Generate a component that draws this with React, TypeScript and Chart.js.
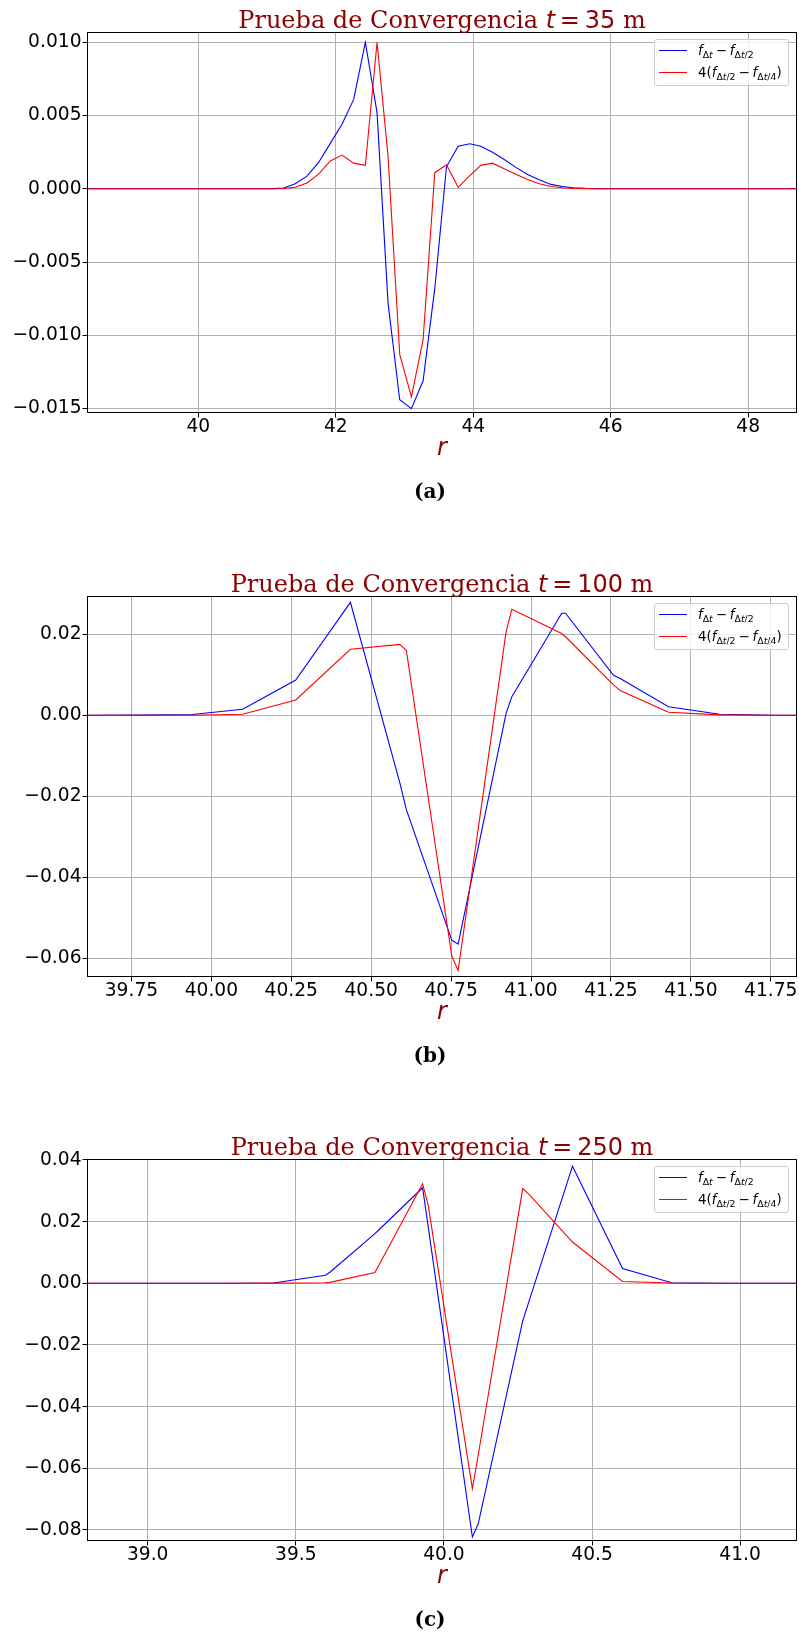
import React, { useEffect, useRef } from 'react';
import { Chart, registerables } from 'chart.js';

Chart.register(...registerables);

// ---------- Panel (a): t = 35 m ----------
const rA = [38.38, 41.07, 41.24, 41.41, 41.58, 41.75, 41.92, 42.09, 42.26, 42.43, 42.6, 42.76, 42.93, 43.1, 43.27, 43.44, 43.61, 43.78, 43.95, 44.11, 44.28, 44.45, 44.62, 44.79, 44.96, 45.13, 45.3, 45.46, 45.63, 45.8, 45.97, 48.71];
const blueA = [0, 0.00001, 0.00005, 0.00034, 0.00086, 0.0018, 0.0031, 0.0044, 0.0061, 0.0100, 0.0052, -0.0078, -0.0144, -0.0150, -0.0131, -0.0068, 0.0015, 0.0029, 0.00307, 0.0029, 0.0025, 0.0020, 0.00146, 0.00098, 0.00061, 0.0003, 0.00016, 0.00007, 0.00003, 0.00001, 0, 0];
const redA = [0, 0, 0.00001, 0.0001, 0.0004, 0.001, 0.0019, 0.0023, 0.00175, 0.0016, 0.0100, 0.0022, -0.0113, -0.0142, -0.0103, 0.0011, 0.00164, 0.0001, 0.0009, 0.0016, 0.00175, 0.00137, 0.001, 0.00063, 0.00034, 0.00016, 0.00007, 0.00003, 0.00001, 0, 0, 0];

// ---------- Panel (b): t = 100 m ----------
const rB = [39.611, 39.77, 39.94, 40.098, 40.264, 40.435, 40.59, 40.61, 40.752, 40.772, 40.922, 40.94, 41.096, 41.108, 41.258, 41.279, 41.43, 41.59, 41.76, 41.832];
const blueB = [0, 0.00005, 0.0002, 0.0015, 0.0087, 0.0279, -0.0168, -0.0233, -0.0555, -0.0565, 0.0005, 0.0046, 0.0252, 0.0252, 0.0099, 0.0091, 0.0021, 0.00025, 0.00002, 0];
const redB = [0, 0, 0.00003, 0.00025, 0.0038, 0.0163, 0.0175, 0.016, -0.0594, -0.063, 0.0206, 0.0262, 0.0202, 0.0194, 0.0075, 0.0061, 0.00074, 0.0001, 0, 0];

// ---------- Panel (c): t = 250 m ----------
const rC = [38.795, 39.26, 39.424, 39.6, 39.615, 39.767, 39.78, 39.928, 39.947, 40.096, 40.116, 40.266, 40.285, 40.434, 40.603, 40.769, 40.94, 41.192];
const blueC = [0, 0.00002, 0.0001, 0.0026, 0.0036, 0.0161, 0.0173, 0.031, 0.0183, -0.0823, -0.0779, -0.0122, -0.0065, 0.038, 0.0048, 0.0002, 0, 0];
const redC = [0, 0, 0.00005, 0.0002, 0.0003, 0.0035, 0.0058, 0.0323, 0.0253, -0.0666, -0.0556, 0.0307, 0.0291, 0.0134, 0.0006, 0.0001, 0, 0];

// Titles / captions
const timesLabel = ['35', '100', '250'];
const captions = ['(a)', '(b)', '(c)'];

type PanelCfg = {
  r: number[]; blue: number[]; red: number[];
  xMin: number; xMax: number; yMin: number; yMax: number;
  xStep: number; yStep: number; xDec: number; yDec: number;
  t: string; cap: string;
  canvasTop: number; plotTop: number; plotBottom: number;
};

const panels: PanelCfg[] = [
  { r: rA, blue: blueA, red: redA, xMin: 38.38, xMax: 48.71, yMin: -0.0153, yMax: 0.0107, xStep: 2, yStep: 0.005, xDec: 0, yDec: 3, t: timesLabel[0], cap: captions[0], canvasTop: 0, plotTop: 32, plotBottom: 413 },
  { r: rB, blue: blueB, red: redB, xMin: 39.611, xMax: 41.832, yMin: -0.06462, yMax: 0.02946, xStep: 0.25, yStep: 0.02, xDec: 2, yDec: 2, t: timesLabel[1], cap: captions[1], canvasTop: 560, plotTop: 596, plotBottom: 977 },
  { r: rC, blue: blueC, red: redC, xMin: 38.795, xMax: 41.192, yMin: -0.08357, yMax: 0.04032, xStep: 0.5, yStep: 0.02, xDec: 1, yDec: 2, t: timesLabel[2], cap: captions[2], canvasTop: 1120, plotTop: 1159, plotBottom: 1541 },
];

const W = 799;
const CANVAS_H = 470;
const PLOT_LEFT = 87;
const PLOT_RIGHT = 797;
const X_AXIS_H = 40;
const TICK_FONT = 18.67;
const DARKRED = '#8b0000';

const fmt = (v: number, dec: number) => {
  const s = Math.abs(v) < 1e-12 ? (0).toFixed(dec) : v.toFixed(dec);
  return s.replace('-', '\u2212');
};

const framePlugin = {
  id: 'frame',
  afterDraw(chart: any) {
    const { ctx, chartArea: a } = chart;
    ctx.save();
    ctx.strokeStyle = '#000';
    ctx.lineWidth = 1;
    ctx.strokeRect(a.left + 0.5, a.top + 0.5, a.right - a.left - 1, a.bottom - a.top - 1);
    ctx.restore();
  },
};

const Sub: React.FC<{ children: React.ReactNode }> = ({ children }) => (
  <span style={{ fontSize: '0.7em', position: 'relative', top: '0.25em' }}>{children}</span>
);
const I: React.FC<{ children: React.ReactNode }> = ({ children }) => (
  <span style={{ fontStyle: 'italic' }}>{children}</span>
);

function Panel({ p }: { p: PanelCfg }) {
  const ref = useRef<HTMLCanvasElement>(null);
  useEffect(() => {
    if (!ref.current) return;
    const plotBottomLocal = p.plotBottom - p.canvasTop;
    const tickFont = { family: 'DejaVu Sans', size: TICK_FONT, lineHeight: 1 };
    const grid = { color: '#b0b0b0', lineWidth: 1, tickLength: 4.5, tickColor: '#000', tickWidth: 1, drawTicks: true };
    const chart = new Chart(ref.current, {
      type: 'line',
      data: {
        datasets: [
          { label: 'red', data: p.r.map((x, i) => ({ x, y: p.red[i] })), borderColor: '#ff0000', borderWidth: 1.1, pointRadius: 0, tension: 0, fill: false, order: 0 },
          { label: 'blue', data: p.r.map((x, i) => ({ x, y: p.blue[i] })), borderColor: '#0000ff', borderWidth: 1.1, pointRadius: 0, tension: 0, fill: false, order: 1 },
        ],
      },
      options: {
        responsive: false,
        animation: false,
        events: [],
        layout: {
          padding: {
            left: 0,
            right: W - PLOT_RIGHT,
            top: p.plotTop - p.canvasTop,
            bottom: CANVAS_H - plotBottomLocal - X_AXIS_H,
          },
        },
        plugins: { legend: { display: false }, title: { display: false }, tooltip: { enabled: false } },
        scales: {
          x: {
            type: 'linear',
            min: p.xMin,
            max: p.xMax,
            afterFit: (s: any) => { s.height = X_AXIS_H; s.paddingLeft = 0; s.paddingRight = 0; },
            ticks: {
              stepSize: p.xStep, includeBounds: false, autoSkip: false, maxRotation: 0, minRotation: 0,
              font: tickFont, color: '#000', padding: 0.5,
              callback: (v: any) => fmt(Number(v), p.xDec),
            },
            grid,
            border: { display: false },
          },
          y: {
            type: 'linear',
            min: p.yMin,
            max: p.yMax,
            afterFit: (s: any) => { s.width = PLOT_LEFT; s.paddingTop = 0; s.paddingBottom = 0; },
            ticks: {
              stepSize: p.yStep, includeBounds: false, autoSkip: false,
              font: tickFont, color: '#000', padding: 1,
              callback: (v: any) => fmt(Number(v), p.yDec),
            },
            grid,
            border: { display: false },
          },
        },
      } as any,
      plugins: [framePlugin],
    });
    return () => chart.destroy();
  }, [p]);

  const cx = (PLOT_LEFT + PLOT_RIGHT) / 2;
  const legendTop = p.plotTop + 7;
  const rowStyle = (i: number): React.CSSProperties => ({
    position: 'absolute', left: 43, top: 11.3 + 22 * i - 11, height: 22, lineHeight: '22px',
    fontFamily: 'DejaVu Sans', fontSize: 13.33, color: '#000', whiteSpace: 'nowrap',
  });
  const sample = (i: number, color: string): React.CSSProperties => ({
    position: 'absolute', left: 4, top: 9.65 + 22 * i, width: 28, height: 1.3, background: color,
  });
  const op: React.CSSProperties = { margin: '0 0.22em' };

  return (
    <>
      <canvas ref={ref} width={W} height={CANVAS_H}
        style={{ position: 'absolute', left: 0, top: p.canvasTop, width: W, height: CANVAS_H, display: 'block' }} />
      {/* Title */}
      <div style={{
        position: 'absolute', left: cx, top: p.plotTop - 3.7 - 20.3, transform: 'translateX(-50%)',
        fontFamily: 'DejaVu Serif', fontSize: 24, lineHeight: '24px', color: DARKRED, whiteSpace: 'nowrap',
      }}>
        Prueba de Convergencia{' '}
        <span style={{ fontFamily: 'DejaVu Sans', fontStyle: 'italic' }}>t</span>
        <span style={{ fontFamily: 'DejaVu Sans', margin: '0 0.2em' }}>=</span>
        <span style={{ fontFamily: 'DejaVu Sans' }}>{p.t}</span>{' '}m
      </div>
      {/* x label */}
      <div style={{
        position: 'absolute', left: cx, top: p.plotBottom - 1 + 43 - 20.3, transform: 'translateX(-50%)',
        fontFamily: 'DejaVu Sans', fontStyle: 'italic', fontSize: 24, lineHeight: '24px', color: DARKRED,
      }}>r</div>
      {/* caption */}
      <div style={{
        position: 'absolute', left: 430, top: p.plotBottom - 1 + 86 - 16.9, transform: 'translateX(-50%)',
        fontFamily: 'DejaVu Serif', fontWeight: 'bold', fontSize: 20, lineHeight: '20px', color: '#000',
      }}>{p.cap}</div>
      {/* legend */}
      <div style={{
        position: 'absolute', left: 654, top: legendTop, width: 135, height: 46.5, boxSizing: 'border-box',
        border: '1px solid #cccccc', borderRadius: 3, background: 'rgba(255,255,255,0.8)',
      }}>
        <div style={sample(0, '#0000ff')} />
        <div style={sample(1, '#ff0000')} />
        <div style={rowStyle(0)}>
          <I>f</I><Sub>Δ<I>t</I></Sub><span style={op}>−</span><I>f</I><Sub>Δ<I>t</I>/2</Sub>
        </div>
        <div style={rowStyle(1)}>
          4(<I>f</I><Sub>Δ<I>t</I>/2</Sub><span style={op}>−</span><I>f</I><Sub>Δ<I>t</I>/4</Sub>)
        </div>
      </div>
    </>
  );
}

export default function App() {
  return (
    <div style={{ position: 'absolute', left: 0, top: 0, width: W, height: 1633, background: '#fff', overflow: 'hidden' }}>
      {panels.map((p, i) => <Panel key={i} p={p} />)}
    </div>
  );
}
